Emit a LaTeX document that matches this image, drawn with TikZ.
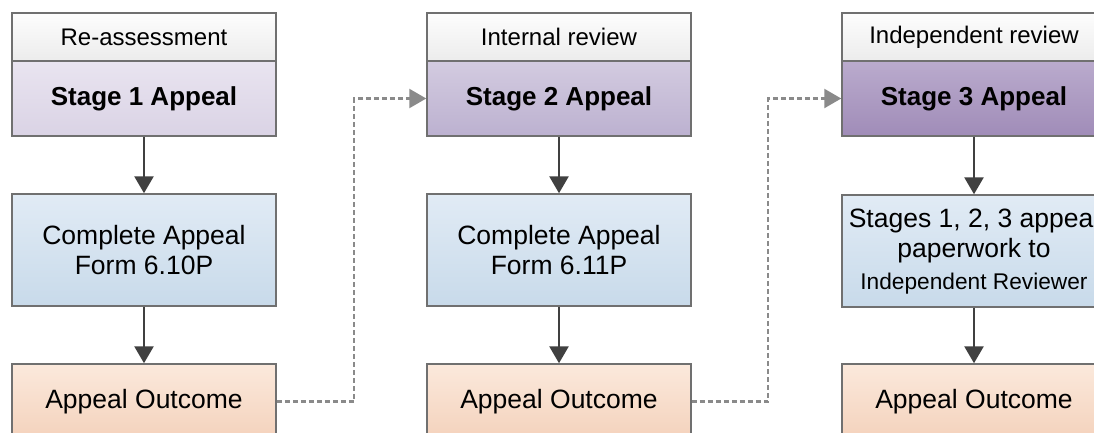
\documentclass[tikz,border=0pt]{standalone}
\usepackage{fontspec}
\setmainfont{Liberation Sans}
\usetikzlibrary{arrows.meta}

\definecolor{edgegray}{HTML}{707070}
\definecolor{arrowgray}{HTML}{404040}
\definecolor{dashgray}{HTML}{8A8A8A}
\definecolor{hdtop}{HTML}{FDFDFD}
\definecolor{hdbot}{HTML}{ECECEC}
\definecolor{sAtop}{HTML}{E9E4F0}
\definecolor{sAbot}{HTML}{DAD3E5}
\definecolor{sBtop}{HTML}{D3CBE0}
\definecolor{sBbot}{HTML}{BCB1D0}
\definecolor{sCtop}{HTML}{BAABCD}
\definecolor{sCbot}{HTML}{A08CB8}
\definecolor{fmtop}{HTML}{E1EBF5}
\definecolor{fmbot}{HTML}{C8DAEA}
\definecolor{outop}{HTML}{FBE9DC}
\definecolor{oubot}{HTML}{F4D2BC}

\tikzset{
  box/.style={draw=edgegray, line width=1.5pt, minimum width=264pt,
    inner sep=0pt, align=center, font={\fontsize{26.5}{30}\selectfont}},
  header/.style={box, minimum height=48pt, top color=hdtop, bottom color=hdbot,
    font={\fontsize{24}{28}\selectfont}},
  stagebox/.style={box, minimum height=75pt, font={\fontsize{26}{30}\selectfont\bfseries}},
  formbox/.style={box, minimum height=112pt, top color=fmtop, bottom color=fmbot},
  outbox/.style={box, minimum height=75pt, top color=outop, bottom color=oubot},
  flow/.style={draw=arrowgray, line width=2.7pt,
    -{Triangle[width=19pt,length=17pt]}},
  handoff/.style={draw=dashgray, line width=2.4pt, dash pattern=on 5pt off 3pt,
    -{Triangle[width=19pt,length=17pt,fill=dashgray]}}
}

\begin{document}
\begin{tikzpicture}[x=1pt, y=-1pt]
  \clip (0,0) rectangle (1094,432);
  \fill[white] (0,0) rectangle (1094,432);

  % column 1
  \node[header] (h1) at (144,37) {Re-assessment};
  \node[stagebox, top color=sAtop, bottom color=sAbot] (s1) at (144,98.5) {Stage 1 Appeal};
  \node[formbox] (f1) at (144,250) {Complete Appeal\\Form 6.10P};
  \node[outbox] (o1) at (144,401.5) {Appeal Outcome};

  % column 2
  \node[header] (h2) at (559,37) {Internal review};
  \node[stagebox, top color=sBtop, bottom color=sBbot] (s2) at (559,98.5) {Stage 2 Appeal};
  \node[formbox] (f2) at (559,250) {Complete Appeal\\Form 6.11P};
  \node[outbox] (o2) at (559,401.5) {Appeal Outcome};

  % column 3
  \node[header] (h3) at (974,37) {Independent review};
  \node[stagebox, top color=sCtop, bottom color=sCbot] (s3) at (974,98.5) {Stage 3 Appeal};
  \node[formbox] (f3) at (974,251) {Stages 1, 2, 3 appeal\\paperwork to\\[1.5pt]
    {\fontsize{22.7}{28}\selectfont Independent Reviewer}};
  \node[outbox] (o3) at (974,401.5) {Appeal Outcome};

  % flow within each stage
  \foreach \c in {1,2,3} {
    \draw[flow] (s\c) -- (f\c);
    \draw[flow] (f\c) -- (o\c);
  }

  % hand-off from each outcome to the next stage
  \draw[handoff] (o1.east) -- ++(77,0) |- (s2.west);
  \draw[handoff] (o2.east) -- ++(76,0) |- (s3.west);
\end{tikzpicture}
\end{document}
